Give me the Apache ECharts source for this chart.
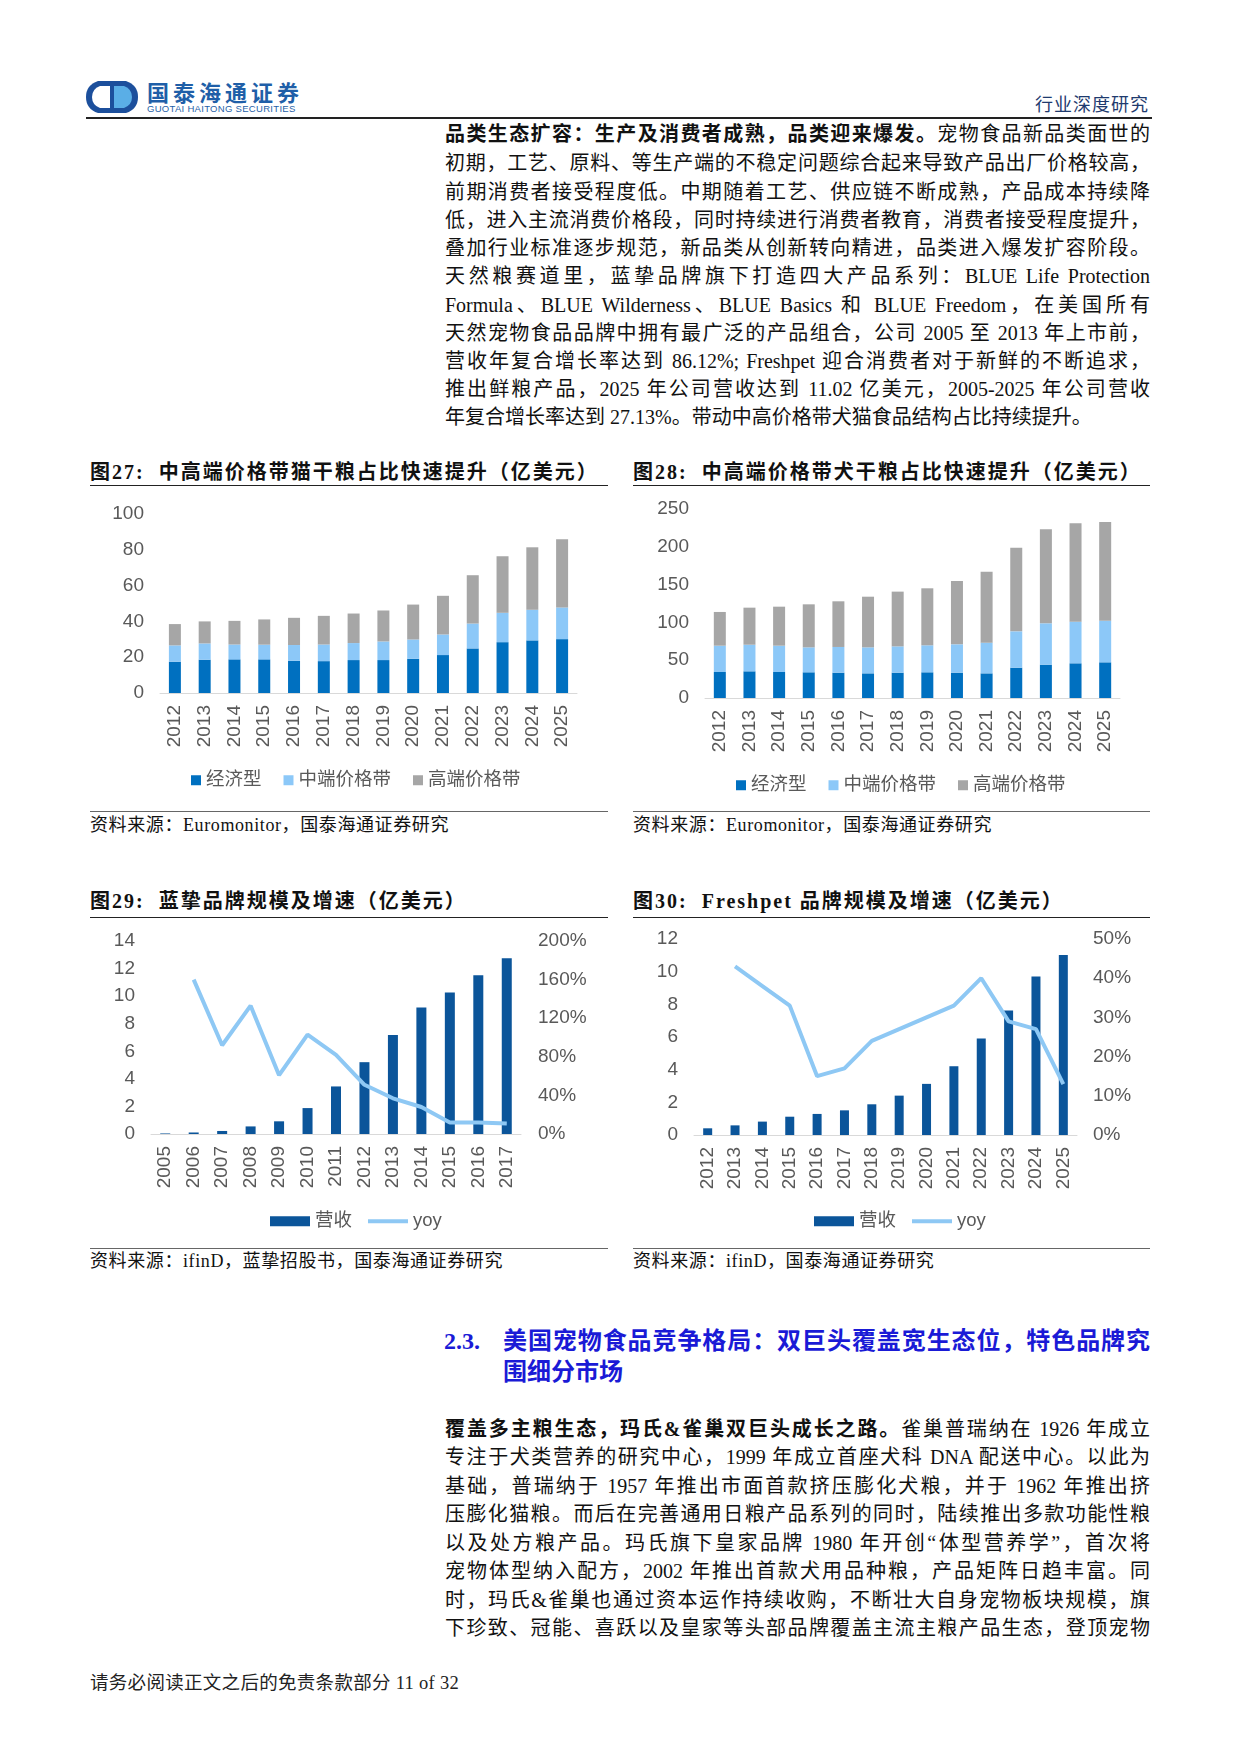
<!DOCTYPE html>
<html>
<head>
<meta charset="utf-8">
<script src="https://cdn.jsdelivr.net/npm/echarts@6/dist/echarts.min.js"></script>
<style>
html,body{margin:0;padding:0;background:#fff;}
#page{position:relative;width:1241px;height:1754px;overflow:hidden;font-family:"Liberation Serif","Noto Sans CJK SC",serif;color:#111;}
.ln{position:absolute;left:445px;width:705px;height:28px;line-height:28px;font-size:20px;text-align:justify;text-align-last:justify;}
.ln.last{text-align-last:left;}
.ttl{position:absolute;height:28px;line-height:28px;font-size:20px;font-weight:bold;letter-spacing:2px;white-space:nowrap;}
.rule{position:absolute;height:0;border-top:1.5px solid #222;}
.srcline{position:absolute;height:0;border-top:1px solid #666;}
.src{position:absolute;font-size:18px;letter-spacing:0.6px;height:24px;line-height:24px;white-space:nowrap;}
.chart{position:absolute;}
.h2{position:absolute;font-size:24px;font-weight:bold;color:#1a1ad6;height:30px;line-height:30px;white-space:nowrap;}
</style>
</head>
<body>
<div id="page">

<!-- header -->
<svg style="position:absolute;left:86px;top:81px" width="52" height="32" viewBox="0 0 52 32">
  <path d="M12,0 L40,0 Q52,4 52,16 Q52,28 40,32 L12,32 Q0,28 0,16 Q0,4 12,0 Z" fill="#1c4f9c"/>
  <path d="M14,5 L24,5 L24,27 L14,27 Q6,24 6,16 Q6,8 14,5 Z" fill="#fff"/>
  <path d="M28,5 L38,5 Q46,8 46,16 Q46,24 38,27 L28,27 Z" fill="#5aaee6"/>
</svg>
<div style="position:absolute;left:147px;top:78px;font-family:'Noto Sans CJK SC';font-weight:bold;font-size:22px;letter-spacing:4px;color:#1f5fa8;line-height:26px;">国泰海通证券</div>
<div style="position:absolute;left:147px;top:103px;font-family:'Liberation Sans';font-size:9.5px;letter-spacing:0.3px;color:#1f5fa8;line-height:12px;">GUOTAI HAITONG SECURITIES</div>
<div style="position:absolute;right:92px;top:91px;font-family:'Noto Sans CJK SC';font-size:18px;letter-spacing:1px;color:#1e3a6e;line-height:24px;">行业深度研究</div>
<div style="position:absolute;left:86px;top:117px;width:1066px;border-top:2px solid #222;"></div>

<!-- paragraph 1 -->
<div class="ln" style="top:120px"><b>品类生态扩容：生产及消费者成熟，品类迎来爆发。</b>宠物食品新品类面世的</div>
<div class="ln" style="top:149px">初期，工艺、原料、等生产端的不稳定问题综合起来导致产品出厂价格较高，</div>
<div class="ln" style="top:178px">前期消费者接受程度低。中期随着工艺、供应链不断成熟，产品成本持续降</div>
<div class="ln" style="top:206px">低，进入主流消费价格段，同时持续进行消费者教育，消费者接受程度提升，</div>
<div class="ln" style="top:234px">叠加行业标准逐步规范，新品类从创新转向精进，品类进入爆发扩容阶段。</div>
<div class="ln" style="top:262px">天然粮赛道里，蓝挚品牌旗下打造四大产品系列：BLUE Life Protection</div>
<div class="ln" style="top:291px">Formula、BLUE Wilderness、BLUE Basics 和 BLUE Freedom，在美国所有</div>
<div class="ln" style="top:319px">天然宠物食品品牌中拥有最广泛的产品组合，公司 2005 至 2013 年上市前，</div>
<div class="ln" style="top:347px">营收年复合增长率达到 86.12%; Freshpet 迎合消费者对于新鲜的不断追求，</div>
<div class="ln" style="top:375px">推出鲜粮产品，2025 年公司营收达到 11.02 亿美元，2005-2025 年公司营收</div>
<div class="ln last" style="top:403px">年复合增长率达到 27.13%。带动中高价格带犬猫食品结构占比持续提升。</div>

<!-- figure 27 / 28 -->
<div class="ttl" style="left:90px;top:458px">图27:&nbsp; 中高端价格带猫干粮占比快速提升（亿美元）</div>
<div class="rule" style="left:90px;top:485px;width:518px"></div>
<div id="c27" class="chart" style="left:90px;top:490px;width:518px;height:315px"></div>
<div class="srcline" style="left:90px;top:811px;width:518px"></div>
<div class="src" style="left:90px;top:813px">资料来源：Euromonitor，国泰海通证券研究</div>

<div class="ttl" style="left:633px;top:458px">图28:&nbsp; 中高端价格带犬干粮占比快速提升（亿美元）</div>
<div class="rule" style="left:633px;top:485px;width:517px"></div>
<div id="c28" class="chart" style="left:633px;top:490px;width:517px;height:315px"></div>
<div class="srcline" style="left:633px;top:811px;width:517px"></div>
<div class="src" style="left:633px;top:813px">资料来源：Euromonitor，国泰海通证券研究</div>

<!-- figure 29 / 30 -->
<div class="ttl" style="left:90px;top:887px">图29:&nbsp; 蓝挚品牌规模及增速（亿美元）</div>
<div class="rule" style="left:90px;top:917px;width:518px"></div>
<div id="c29" class="chart" style="left:90px;top:922px;width:518px;height:320px"></div>
<div class="srcline" style="left:90px;top:1248px;width:518px"></div>
<div class="src" style="left:90px;top:1249px">资料来源：ifinD，蓝挚招股书，国泰海通证券研究</div>

<div class="ttl" style="left:633px;top:887px">图30:&nbsp; Freshpet 品牌规模及增速（亿美元）</div>
<div class="rule" style="left:633px;top:917px;width:517px"></div>
<div id="c30" class="chart" style="left:633px;top:922px;width:517px;height:320px"></div>
<div class="srcline" style="left:633px;top:1248px;width:517px"></div>
<div class="src" style="left:633px;top:1249px">资料来源：ifinD，国泰海通证券研究</div>

<!-- section 2.3 -->
<div class="h2" style="left:444px;top:1326px">2.3.</div>
<div class="h2" style="left:503px;top:1326px;width:647px;text-align:justify;text-align-last:justify;">美国宠物食品竞争格局：双巨头覆盖宽生态位，特色品牌究</div>
<div class="h2" style="left:503px;top:1357px">围细分市场</div>

<!-- paragraph 2 -->
<div class="ln" style="top:1415px"><b>覆盖多主粮生态，玛氏&amp;雀巢双巨头成长之路。</b>雀巢普瑞纳在 1926 年成立</div>
<div class="ln" style="top:1443px">专注于犬类营养的研究中心，1999 年成立首座犬科 DNA 配送中心。以此为</div>
<div class="ln" style="top:1472px">基础，普瑞纳于 1957 年推出市面首款挤压膨化犬粮，并于 1962 年推出挤</div>
<div class="ln" style="top:1500px">压膨化猫粮。而后在完善通用日粮产品系列的同时，陆续推出多款功能性粮</div>
<div class="ln" style="top:1529px">以及处方粮产品。玛氏旗下皇家品牌 1980 年开创“体型营养学”，首次将</div>
<div class="ln" style="top:1557px">宠物体型纳入配方，2002 年推出首款犬用品种粮，产品矩阵日趋丰富。同</div>
<div class="ln" style="top:1586px">时，玛氏&amp;雀巢也通过资本运作持续收购，不断壮大自身宠物板块规模，旗</div>
<div class="ln" style="top:1614px">下珍致、冠能、喜跃以及皇家等头部品牌覆盖主流主粮产品生态，登顶宠物</div>

<!-- footer -->
<div style="position:absolute;left:90px;top:1671px;font-size:18.5px;letter-spacing:0.3px;line-height:24px;color:#222;">请务必阅读正文之后的免责条款部分 11 of 32</div>

</div>

<script>
// 图27 猫干粮（亿美元）
const yearsA = ['2012','2013','2014','2015','2016','2017','2018','2019','2020','2021','2022','2023','2024','2025'];
const catEconomy = [17.5, 18.6, 18.8, 18.8, 18.0, 17.8, 18.4, 18.4, 19.1, 21.2, 24.9, 28.4, 29.4, 30.1];
const catMid     = [9.1, 9.1, 8.3, 8.2, 8.8, 9.3, 9.5, 10.4, 10.8, 11.5, 13.9, 16.4, 17.1, 17.7];
const catHigh    = [11.9, 12.3, 13.2, 14.1, 15.2, 16.0, 16.5, 17.3, 19.5, 21.6, 27.0, 31.6, 34.9, 38.1];

// 图28 犬干粮（亿美元）
const dogEconomy = [34.4, 35.3, 34.4, 34.0, 33.5, 32.6, 33.5, 34.0, 33.5, 32.6, 40.1, 44.1, 45.9, 47.2];
const dogMid     = [34.8, 35.2, 34.8, 33.0, 34.0, 34.4, 34.8, 35.7, 37.5, 40.6, 48.1, 54.7, 55.1, 55.1];
const dogHigh    = [44.6, 49.0, 51.6, 56.9, 60.4, 67.0, 72.4, 75.4, 83.8, 93.9, 110.7, 124.3, 130.0, 130.5];

// 图29 蓝挚
const yearsBlue = ['2005','2006','2007','2008','2009','2010','2011','2012','2013','2014','2015','2016','2017'];
const blueRevenue = [0.04, 0.11, 0.22, 0.55, 0.92, 1.88, 3.45, 5.21, 7.19, 9.17, 10.26, 11.51, 12.74];
const blueYoy = [null, 160, 92, 133, 61, 103, 82, 51, 37, 28, 12, 12, 11];

// 图30 Freshpet
const freshRevenue = [0.41, 0.59, 0.82, 1.12, 1.29, 1.51, 1.88, 2.41, 3.13, 4.21, 5.91, 7.63, 9.71, 11.02];
const freshYoy = [null, 43, 38, 33, 15, 17, 24, 27, 30, 33, 40, 29, 27, 13];

const stackNames = ['经济型', '中端价格带', '高端价格带'];
const stackColors = ['#0070c0', '#8cc8f8', '#a6a6a6'];
const labelGray = '#595959';
const numFont = 'Liberation Sans';
const legendFont = '"Liberation Sans","Noto Sans CJK SC"';
const yoyColor = '#8ec8f4';

const xAxisBase = (cats) => ({
    type: 'category',
    data: cats,
    axisTick: { show: false },
    axisLine: { lineStyle: { color: '#d9d9d9', width: 1 } },
    axisLabel: { rotate: 90, margin: 12, color: labelGray, fontSize: 19, fontFamily: numFont },
});

const stackOption = (eco, mid, high, max, interval, grid, legendPos, barWidth) => ({
    animation: false,
    grid: grid,
    legend: {
        left: legendPos[0], top: legendPos[1],
        icon: 'rect', itemWidth: 10, itemHeight: 10, itemGap: 22,
        textStyle: { color: labelGray, fontSize: 18.5, fontFamily: legendFont },
        data: stackNames,
    },
    xAxis: xAxisBase(yearsA),
    yAxis: {
        type: 'value', min: 0, max: max, interval: interval,
        splitLine: { show: false },
        axisLine: { show: false }, axisTick: { show: false },
        axisLabel: { margin: 16, color: labelGray, fontSize: 19, fontFamily: numFont },
    },
    series: [eco, mid, high].map((d, i) => ({
        name: stackNames[i], type: 'bar', stack: 'total', data: d,
        barWidth: barWidth, itemStyle: { color: stackColors[i] },
    })),
});

const comboOption = (cats, rev, yoy, lmax, rmax, rint, grid, legendPos, barWidth, rMargin) => ({
    animation: false,
    grid: grid,
    legend: {
        left: legendPos[0], top: legendPos[1],
        itemWidth: 40, itemHeight: 10, itemGap: 16, symbolKeepAspect: true,
        textStyle: { color: labelGray, fontSize: 18.5, fontFamily: legendFont },
        data: [
            { name: '营收', icon: 'rect' },
            { name: 'yoy', icon: 'path://M0,0 L40,0 L40,4 L0,4 Z', itemStyle: { color: yoyColor } },
        ],
    },
    xAxis: xAxisBase(cats),
    yAxis: [
        {
            type: 'value', min: 0, max: lmax, interval: 2,
            splitLine: { show: false }, axisLine: { show: false }, axisTick: { show: false },
            axisLabel: { margin: 16, color: labelGray, fontSize: 19, fontFamily: numFont },
        },
        {
            type: 'value', min: 0, max: rmax, interval: rint, position: 'right',
            splitLine: { show: false }, axisLine: { show: false }, axisTick: { show: false },
            axisLabel: { margin: rMargin, color: labelGray, fontSize: 19, fontFamily: numFont, formatter: '{value}%' },
        },
    ],
    series: [
        { name: '营收', type: 'bar', data: rev, barWidth: barWidth, itemStyle: { color: '#0b559a' } },
        {
            name: 'yoy', type: 'line', yAxisIndex: 1, data: yoy, symbol: 'none',
            lineStyle: { color: yoyColor, width: 4 }, itemStyle: { color: yoyColor },
        },
    ],
});

const c27 = echarts.init(document.getElementById('c27'));
c27.setOption(stackOption(catEconomy, catMid, catHigh, 100, 20,
    { left: 70, top: 24, width: 417, height: 179 }, [96, 276], 12));

const c28 = echarts.init(document.getElementById('c28'));
c28.setOption(stackOption(dogEconomy, dogMid, dogHigh, 250, 50,
    { left: 72, top: 19, width: 415, height: 189 }, [98, 281], 12));

const c29 = echarts.init(document.getElementById('c29'));
c29.setOption(comboOption(yearsBlue, blueRevenue, blueYoy, 14, 200, 40,
    { left: 61, top: 19, width: 370, height: 193 }, [175, 285], 10, 17));

const c30 = echarts.init(document.getElementById('c30'));
c30.setOption(comboOption(yearsA, freshRevenue, freshYoy, 12, 50, 10,
    { left: 61, top: 17, width: 383, height: 196 }, [176, 285], 9, 16));
</script>
</body>
</html>
